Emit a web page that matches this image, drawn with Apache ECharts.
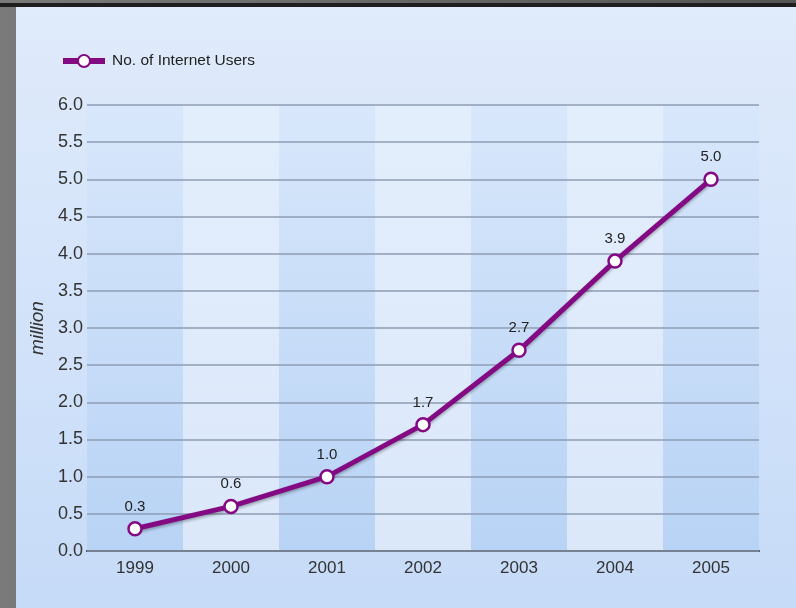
<!DOCTYPE html>
<html><head><meta charset="utf-8">
<script src="https://cdn.jsdelivr.net/npm/echarts@6/dist/echarts.min.js"></script>
<style>html,body{margin:0;padding:0;background:#4d4d4d;}#c{width:796px;height:608px;}</style>
</head><body><div id="c"></div>
<script>
const years = ['1999','2000','2001','2002','2003','2004','2005'];
const users = [0.3, 0.6, 1.0, 1.7, 2.7, 3.9, 5.0];
const seriesName = 'No. of Internet Users';
const yAxisName = 'million';

const darkBand = {type:'linear', x:0, y:0, x2:0, y2:1, colorStops:[{offset:0,color:'#d8e7fb'},{offset:1,color:'#b8d3f5'}]};
const lightBand = {type:'linear', x:0, y:0, x2:0, y2:1, colorStops:[{offset:0,color:'#e3eefc'},{offset:1,color:'#dbe8fa'}]};

const chart = echarts.init(document.getElementById('c'));
chart.setOption({
  backgroundColor: {type:'linear', x:0, y:0, x2:1, y2:0, colorStops:[{offset:0,color:'#7a7a7a'},{offset:1,color:'#555555'}]},
  graphic: [
    {type:'rect', z:-10, shape:{x:0, y:3, width:796, height:4}, style:{fill:'#1e1e1e'}},
    {type:'rect', z:-10, shape:{x:16, y:7, width:780, height:601},
     style:{fill:{type:'linear', x:0, y:0, x2:0, y2:1, colorStops:[{offset:0,color:'#e0ebfb'},{offset:1,color:'#c6dbf8'}]}}}
  ],
  textStyle: {fontFamily:'Liberation Sans, Arial, sans-serif'},
  legend: {
    left: 55, top: 48, itemWidth: 42, itemHeight: 15, itemGap: 10,
    textStyle: {fontSize: 15.5, color:'#222', padding:[0,0,0,2]},
    lineStyle: {width: 6},
    data: [seriesName]
  },
  grid: {left: 87, right: 37, top: 105, bottom: 57},
  xAxis: {
    type: 'category', data: years, boundaryGap: true, z: 1,
    axisLine: {lineStyle: {color:'#333', width: 2}},
    axisTick: {show: false},
    axisLabel: {fontSize: 17, color:'#333', margin: 9},
    splitArea: {show: true, areaStyle: {color: [darkBand, lightBand]}}
  },
  yAxis: {
    type: 'value', min: 0, max: 6, interval: 0.5, z: 3,
    name: yAxisName, nameLocation: 'middle', nameGap: 39, nameRotate: 90,
    nameTextStyle: {fontSize: 19, fontStyle: 'italic', color:'#333'},
    axisLine: {show: false}, axisTick: {show: false},
    axisLabel: {fontSize: 18, color:'#333', margin: 4, formatter: v => v.toFixed(1)},
    splitLine: {lineStyle: {color: '#8e9db3', width: 1.5}}
  },
  series: [{
    name: seriesName, type: 'line', data: users,
    symbol: 'circle', symbolSize: 13,
    lineStyle: {color:'#840a84', width: 5, shadowColor:'rgba(0,0,0,0.3)', shadowBlur:3, shadowOffsetY:2},
    itemStyle: {color:'#ffffff', borderColor:'#840a84', borderWidth: 2.5},
    label: {show: true, position: 'top', distance: 7, fontSize: 15, color:'#222', formatter: p => p.value.toFixed(1)},
    z: 5
  }]
});
</script></body></html>
